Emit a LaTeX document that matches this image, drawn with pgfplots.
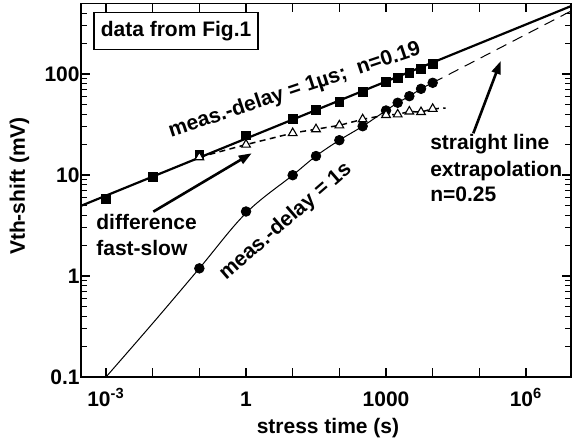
\documentclass[border=0pt]{standalone}
\usepackage{fontspec}
\setmainfont{Liberation Sans}
\usepackage{pgfplots}
\pgfplotsset{compat=1.18}
\usetikzlibrary{arrows.meta,calc}
\begin{document}
\begin{tikzpicture}[font=\fontsize{10.5}{12.6}\selectfont\bfseries]
\begin{axis}[name=ax, scale only axis, width=245pt, height=186.8pt,
 xmode=log, ymode=log, xmin=2.91e-4, xmax=9.2e6, ymin=0.1, ymax=500,
 axis line style={line width=0.6pt},
 major tick style={line width=0.7pt, black},
 minor tick style={line width=0.6pt, black},
 tick align=inside, major tick length=4.5pt, minor tick length=2.8pt,
 xtick={1e-3,1e-2,1e-1,1,10,100,1000,1e4,1e5,1e6},
 xticklabels={10\textsuperscript{-3},,,1,,,1000,,,10\textsuperscript{6}},
 xminorticks=false,
 ytick={0.1,1,10,100},
 yticklabels={0.1\hspace{4pt},1\hspace{4pt},10,100},
 minor ytick={0.2,0.3,0.4,0.5,0.6,0.7,0.8,0.9,2,3,4,5,6,7,8,9,20,30,40,50,60,70,80,90,200,300,400},
 tick label style={font=\fontsize{10.5}{12.6}\selectfont\bfseries},
 yticklabel style={inner xsep=0.5pt},
 xticklabel style={text height=7.6pt, inner ysep=0pt, yshift=-7pt},
 clip mode=individual,
 /pgf/number format/assume math mode=true,
]
% fit curve through slow data (meas.-delay = 1s)
\addplot[black, line width=0.5pt, smooth, tension=0.6] coordinates {
 (1e-3,0.1) (1e-2,0.34) (0.1,1.19) (1,4.2) (10,9.95) (31.6,15.4) (100,22.1)
 (316,30.4) (1000,43.5) (1778,51.9) (3162,60.3) (5623,71.3) (10000,81.8)};
% straight line extrapolation n=0.25
\addplot[black, line width=0.5pt, dash pattern=on 5.5pt off 3.5pt] coordinates {
 (10000,81.8) (9.2e6,420)};
% fast fit line n=0.19
\addplot[black, line width=1.1pt] coordinates {(2.91e-4,4.95) (9.2e6,470)};
% difference dashed line
\addplot[black, line width=0.75pt, dash pattern=on 3pt off 2.2pt] coordinates {
 (0.1,15.0) (1,20.0) (10,26) (31.6,28.4) (100,31) (316,35.6) (1000,39.3)
 (1778,39.8) (3162,42.5) (5623,42) (10000,45.2) (19000,46)};
% squares: meas.-delay = 1us
\addplot[only marks, mark=square*, mark size=2.2pt, mark options={fill=black, draw=black, solid}] coordinates {
 (1e-3,5.85) (1e-2,9.5) (0.1,16.0) (1,24.7) (10,36.0) (31.6,43.8) (100,53.1)
 (316,66.0) (1000,82.8) (1778,91.7) (3162,102.8) (5623,113.3) (10000,127)};
% circles: meas.-delay = 1s
\addplot[only marks, mark=*, mark size=2.4pt, mark options={fill=black, draw=black, solid}] coordinates {
 (0.1,1.19) (1,4.35) (10,9.95) (31.6,15.4) (100,22.1) (316,30.4) (1000,43.5)
 (1778,51.9) (3162,60.3) (5623,71.3) (10000,81.8)};
% triangles: difference
\addplot[only marks, mark=triangle*, mark size=2.5pt, mark options={fill=white, draw=black, solid, line width=0.55pt}] coordinates {
 (0.1,15.0) (1,20.0) (10,26) (31.6,28.4) (100,31) (316,35.6) (1000,39.3)
 (1778,39.8) (3162,42.5) (5623,42) (10000,45.2)};

\node[draw, line width=0.6pt, minimum width=82pt, minimum height=18.5pt, inner sep=0pt, fill=white] at (rel axis cs:0.194,0.927) {data from Fig.1};
\node[rotate=18.5, anchor=base] at (rel axis cs:0.4398,0.753) {meas.-delay = 1µs;\ \ n=0.19};
\node[rotate=41, anchor=base] at (rel axis cs:0.425,0.405) {meas.-delay = 1s};
\node[anchor=base west, inner sep=0pt] at (rel axis cs:0.0306,0.3935) {difference};
\node[anchor=base west, inner sep=0pt] at (rel axis cs:0.0306,0.3239) {fast-slow};
\node[anchor=base west, inner sep=0pt] at (rel axis cs:0.712,0.6076) {straight line};
\node[anchor=base west, inner sep=0pt] at (rel axis cs:0.712,0.536) {extrapolation};
\node[anchor=base west, inner sep=0pt] at (rel axis cs:0.712,0.469) {n=0.25};
\draw[line width=1.3pt, -{Triangle[length=6.5pt,width=4.5pt]}] (rel axis cs:0.1476,0.4425) -- (rel axis cs:0.3484,0.5988);
\draw[line width=1.3pt, -{Triangle[length=6.5pt,width=4.5pt]}] (rel axis cs:0.8006,0.6523) -- (rel axis cs:0.8565,0.8458);
\node[rotate=90, anchor=base] at (rel axis cs:-0.1143,0.511) {Vth-shift (mV)};
\node[anchor=base] at (rel axis cs:0.504,-0.150) {stress time (s)};
\end{axis}
\pgfresetboundingbox
\path ($(ax.south west)+(-40.5pt,-33.5pt)$) rectangle ($(ax.north east)+(0.5pt,1.7pt)$);
\end{tikzpicture}
\end{document}
